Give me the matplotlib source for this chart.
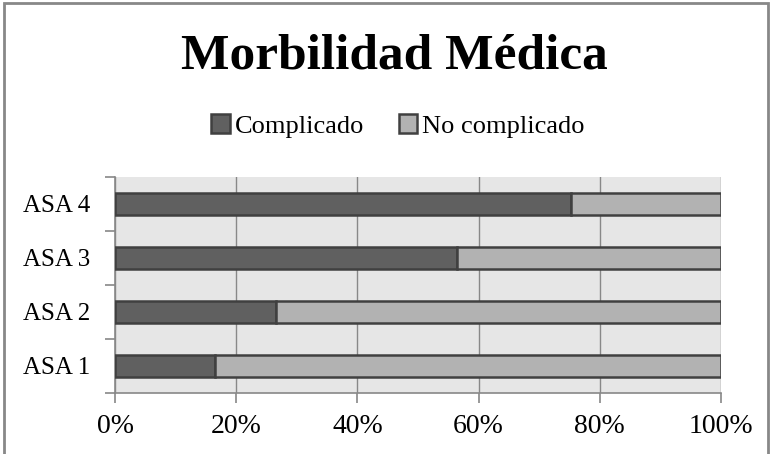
import numpy as np
import matplotlib
matplotlib.use("Agg")
import matplotlib.pyplot as plt
from matplotlib.patches import Rectangle
from matplotlib.ticker import FixedLocator, PercentFormatter

categories = ["ASA 1", "ASA 2", "ASA 3", "ASA 4"]
complicado = np.array([16.5, 26.5, 56.5, 75.2])
no_complicado = 100 - complicado

plt.rcParams['font.family'] = ['Liberation Serif', 'DejaVu Serif']

fig = plt.figure(figsize=(7.73, 4.54), dpi=100)
ax = fig.add_axes([115/773, 61/454, 606/773, 216/454])
ax.set_facecolor('#e6e6e6')

y = np.arange(len(categories))
h = 0.42
ax.barh(y, complicado, height=h, color='#606060', edgecolor='#404040',
        linewidth=1.8, label='Complicado', zorder=3)
ax.barh(y, no_complicado, left=complicado, height=h, color='#b2b2b2',
        edgecolor='#404040', linewidth=1.8, label='No complicado', zorder=3)

ax.set_xlim(0, 100)
ax.set_ylim(-0.5, 3.5)
ax.set_xticks(np.arange(0, 101, 20))
ax.xaxis.set_major_formatter(PercentFormatter(decimals=0))
ax.set_yticks(y)
ax.set_yticklabels(categories)
ax.yaxis.set_minor_locator(FixedLocator([-0.5, 0.5, 1.5, 2.5, 3.5]))

ax.grid(axis='x', color='#888888', linewidth=1, zorder=0)
ax.set_axisbelow(True)
for s in ['top', 'right']:
    ax.spines[s].set_visible(False)
for s in ['left', 'bottom']:
    ax.spines[s].set_color('#888888')
    ax.spines[s].set_linewidth(1.2)

ax.tick_params(axis='y', which='major', length=0, pad=18, labelsize=18)
ax.tick_params(axis='y', which='minor', length=7, color='#888888', width=1.2)
ax.tick_params(axis='x', length=7, color='#888888', width=1.2, pad=8,
               labelsize=20)

fig.text(0.51, 0.876, "Morbilidad Médica", ha='center', va='center',
         fontsize=37, fontweight='bold')
fig.legend(loc='center', bbox_to_anchor=(0.515, 0.722), ncol=2,
           frameon=False, fontsize=19, handlelength=0.7, handleheight=0.7,
           handletextpad=0.2, columnspacing=1.3)

# outer chart border
fig.patches.append(Rectangle((4/773, -0.02), 764/773, 1 - 3/454 + 0.02,
                             transform=fig.transFigure, fill=False,
                             edgecolor='#888888', linewidth=2))

fig.savefig("out.png", dpi=100)
